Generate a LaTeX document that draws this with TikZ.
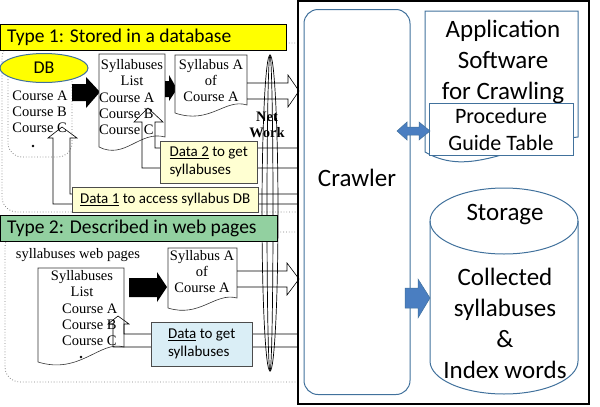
\documentclass[tikz,border=0pt]{standalone}
\usepackage{fontspec}
\setmainfont{Liberation Serif}
\setsansfont{Carlito}
\usepackage{tikz}
\usetikzlibrary{shapes,arrows,positioning,calc}

\definecolor{bannerY}{RGB}{255,255,0}
\definecolor{bannerG}{RGB}{146,208,160}
\definecolor{noteY}{RGB}{255,255,210}
\definecolor{noteB}{RGB}{218,238,246}
\definecolor{lineB}{RGB}{65,113,156}
\definecolor{fillB}{RGB}{74,126,193}

\begin{document}
\begin{tikzpicture}[x=1pt, y=-1pt,
    region/.style={dotted, gray, thick, rounded corners=15pt},
    banner/.style={rectangle, draw=black, line width=1.2pt, anchor=north west, minimum height=26pt},
    bannertext/.style={anchor=west, inner sep=0pt, font=\sffamily\fontsize{19.5}{24}\selectfont},
    note/.style={rectangle, draw=black!70, anchor=north west, inner sep=0pt, align=left, font=\sffamily\fontsize{15}{18}\selectfont},
    doc/.style={draw=black!80, fill=white, line width=0.6pt},
    doctext/.style={align=center, inner sep=0pt, font=\fontsize{14.5}{16}\selectfont},
    hollow/.style={draw=black, line width=0.6pt},
    blockarrow/.style={fill=black},
    bluebox/.style={draw=lineB, line width=1pt},
    bluearrow/.style={fill=fillB, draw=lineB, line width=0.5pt},
    bigtext/.style={align=center, inner sep=0pt, font=\sffamily\fontsize{25}{31}\selectfont}
]
\useasboundingbox (0,0) rectangle (600,407);

% Type 1 region
\draw[region] (298,43) -- (2,43) -- (2,212) -- (298,212);
\draw[region, rounded corners=14pt] (8,68) -- (8,157) -- (72,157) -- (72,68);
\node[banner, fill=bannerY, minimum width=286pt] (type1) at (0,24) {};
\node[bannertext] (type1text) at ($(type1.west)+(7,0)$) {Type 1: Stored in a database};

\node[ellipse, bluebox, fill=bannerY, minimum width=88pt, minimum height=29pt, inner sep=0pt, font=\sffamily\fontsize{18}{20}\selectfont] (db) at (44,68) {DB};
\node[doctext, align=left] (dbcourses) at (40,112) {Course A\\Course B\\Course C};
\node[circle, fill, inner sep=0.9pt] (dbdot) at (33,146) {};

% black arrow to the list
\fill[blockarrow] (72,84) -- (86,84) -- (86,77) -- (100,92) -- (86,108) -- (86,101) -- (72,101) -- cycle;

% Syllabuses list (DB)
\draw[doc] (99,54) -- (165,54) -- (165,137) .. controls (140,130) and (125,160) .. (99,147) -- cycle;
\node[doctext] (list1) at (132,73) {Syllabuses\\List};
\node[doctext, align=left, anchor=west] (list1c) at (99,114) {Course A\\Course B\\Course C};

\fill[blockarrow] (165,81) -- (169,81) -- (169,75) -- (177,89) -- (169,101) -- (169,97) -- (165,97) -- cycle;

% Syllabus A (DB)
\draw[doc] (175,55) -- (247,55) -- (247,105) .. controls (225,98) and (210,125) .. (175,113) -- cycle;
\node[doctext] (syl1) at (211,81) {Syllabus A\\of\\Course A};

% Network
\draw[line width=0.7pt] (270,213) ellipse [x radius=8pt, y radius=158pt];
\draw[line width=0.7pt] (270,213) ellipse [x radius=3pt, y radius=158pt];
\node[doctext, font=\bfseries\fontsize{14.5}{16}\selectfont] (net) at (267,125) {Net\\Work};

% hollow arrows, type 1
\draw[hollow] (247,83) -- (288,83) -- (288,75) -- (299,91) -- (288,107) -- (288,99) -- (247,99);
\draw[hollow] (298,148) -- (155,148) -- (155,122) -- (163,122) -- (148,108) -- (134,122) -- (142,122) -- (142,168) -- (298,168);
\draw[hollow] (298,194) -- (70,194) -- (70,138) -- (77,138) -- (62,127) -- (48,138) -- (53,138) -- (53,204) -- (298,204);

\node[note, fill=noteY, minimum width=97pt, minimum height=42pt] (data2) at (160,141) {\underline{Data 2} to get\\syllabuses};
\node[note, fill=noteY, minimum width=186pt, minimum height=25pt] (data1) at (72,187) {\underline{Data 1} to access syllabus DB};

% Type 2 region
\draw[region] (298,232) -- (5,232) -- (5,382) -- (298,382);
\node[banner, fill=bannerG, minimum width=277pt] (type2) at (0,215) {};
\node[bannertext] (type2text) at ($(type2.west)+(7,0)$) {Type 2: Described in web pages};

\node[doctext] (webpages) at (78,255) {syllabuses web pages};

% Syllabuses list (web)
\draw[doc] (38,268) -- (124,268) -- (124,347) .. controls (100,340) and (80,375) .. (38,362) -- cycle;
\node[doctext] (list2) at (82,284) {Syllabuses\\List};
\node[doctext, align=left, anchor=west] (list2c) at (62,325) {Course A\\Course B\\Course C};
\node[circle, fill, inner sep=0.9pt] (webdot) at (81,357) {};

\fill[blockarrow] (129,278) -- (157,278) -- (157,272) -- (167,287) -- (157,302) -- (157,297) -- (129,297) -- cycle;

% Syllabus A (web)
\draw[doc] (168,248) -- (237,248) -- (237,298) .. controls (215,292) and (200,318) .. (168,308) -- cycle;
\node[doctext] (syl2) at (202,272) {Syllabus A\\of\\Course A};

% hollow arrows, type 2
\draw[hollow] (237,271) -- (287,271) -- (287,263) -- (299,279) -- (287,295) -- (287,287) -- (237,287);
\draw[hollow] (298,334) -- (124,334) -- (124,324) -- (129,324) -- (118,316) -- (108,324) -- (113,324) -- (113,347) -- (298,347);
\node[note, fill=noteB, minimum width=101pt, minimum height=44pt] (data3) at (151,322) {\underline{Data} to get\\syllabuses};

% Crawler side
\draw[line width=2pt] (298,1) rectangle (589,404);
\node[bluebox, rounded corners=14pt, minimum width=106pt, minimum height=385pt] (crawler) at (357,202) {};
\node[bigtext] (crawlertext) at (357,178) {Crawler};

\draw[bluebox] (425,11) -- (578,11) -- (578,137) .. controls (510,145) and (470,178) .. (425,152) -- cycle;
\node[bigtext] (app) at (503,62) {Application\\Software\\for Crawling};
\node[bluebox, fill=white, minimum width=144pt, minimum height=52pt, bigtext, font=\sffamily\fontsize{22}{27}\selectfont] (proc) at (501,129) {Procedure\\Guide Table};

\fill[bluearrow] (397,131) -- (407,122) -- (407,127) -- (419,127) -- (419,122) -- (430,131) -- (419,140) -- (419,135) -- (407,135) -- (407,140) -- cycle;

% Storage
\draw[bluebox] (430,221) -- (430,361) arc[start angle=180, end angle=360, x radius=74pt, y radius=33pt] -- (578,221);
\draw[bluebox] (504,221) ellipse [x radius=74pt, y radius=33pt];
\node[bigtext] (storage) at (505,215) {Storage};
\node[bigtext] (collected) at (505,323) {Collected\\syllabuses\\\&\\Index words};

\fill[bluearrow] (405,288) -- (418,288) -- (418,279) -- (430,298) -- (418,318) -- (418,308) -- (405,308) -- cycle;

\end{tikzpicture}
\end{document}
